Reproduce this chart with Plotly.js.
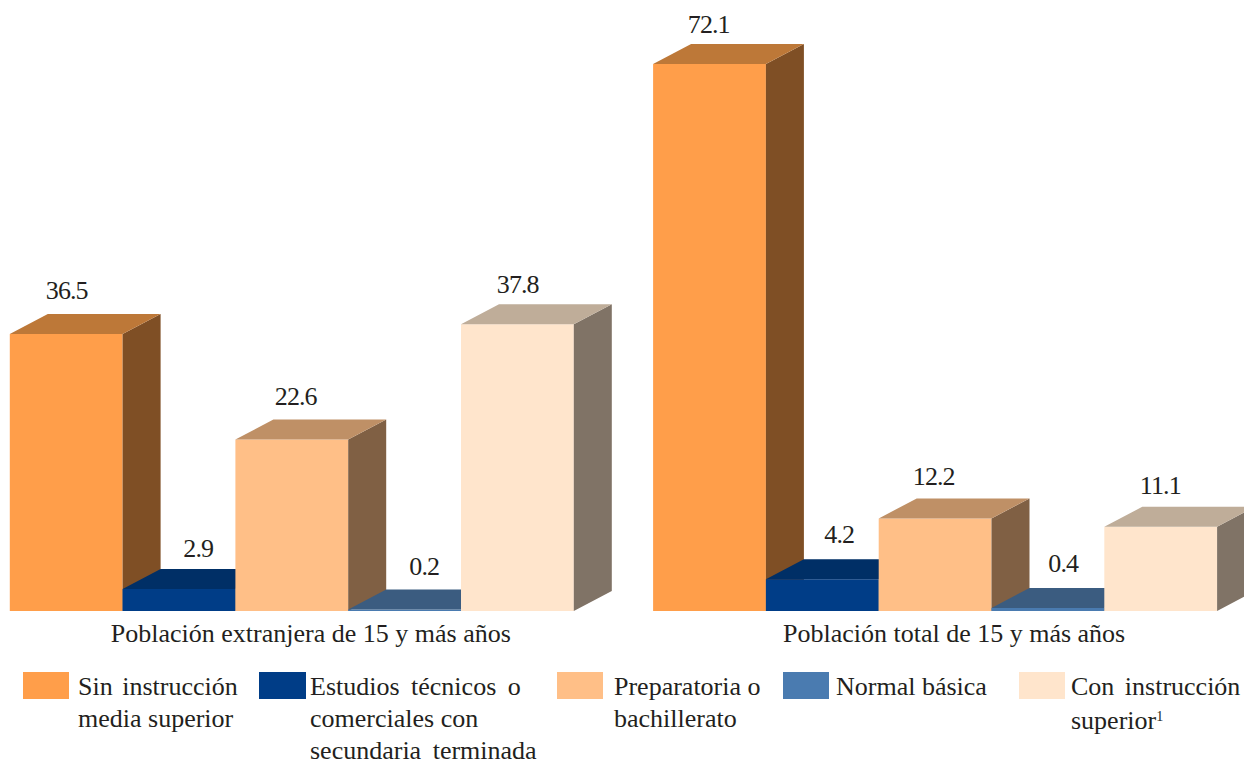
<!DOCTYPE html>
<html><head><meta charset="utf-8">
<script src="https://cdn.plot.ly/plotly-3.0.1.min.js"></script>
<style>html,body{margin:0;padding:0;background:#fff;overflow:hidden}</style>
</head><body><div id="chart" style="width:1244px;height:761px"></div>
<script>
// ---- data ----
const groups = ["Población extranjera de 15 y más años", "Población total de 15 y más años"];
const seriesNames = [
  ["Sin instrucción", "media superior"],
  ["Estudios técnicos o", "comerciales con", "secundaria terminada"],
  ["Preparatoria o", "bachillerato"],
  ["Normal básica"],
  ["Con instrucción", "superior<sup>1</sup>"]
];
const extranjera = [36.5, 2.9, 22.6, 0.2, 37.8];
const total = [72.1, 4.2, 12.2, 0.4, 11.1];
// ---- style ----
const W = 1244, H = 761;
const frontColors = ["#FF9E4A", "#003D87", "#FFBF87", "#4A7BB0", "#FFE5CC"];
const topColors   = ["#BD7838", "#002F66", "#BF9066", "#3B5C80", "#BFAD99"];
const sideColors  = ["#7F4F25", "#002044", "#806044", "#253E58", "#807366"];
const unitPx = 112.8, valPx = 7.587, x0Px = 66.2, base = 611;
const groupStart = [0, 5.703];
const dx = 38 / unitPx, dy = 20 / valPx;
const labelShift = [[1,-24],[19,-21],[4,-23],[20,-23],[1,-20],[-1,-19],[17,-25],[-1,-22],[16,-24],[0,-21]];
const legendBox = [[23,69],[259,306],[557,603],[783,829],[1019,1065]];
const legendText = [77, 309, 613, 835, 1070];
const legendLineY = [686, 718, 750];
const wordSpacing = {"Sin instrucción": 3, "Estudios técnicos o": 5, "Con instrucción": 4, "secundaria terminada": 5};
const font = "Liberation Serif", ink = "#231F20";

const xRange = [(0 - x0Px) / unitPx, (W - x0Px) / unitPx];
const yMax = base / valPx;
const values = [extranjera, total];
const traces = [], annotations = [], shapes = [];
const layout = {
  width: W, height: H, margin: {l:0,r:0,t:0,b:0}, paper_bgcolor:"#fff", plot_bgcolor:"rgba(0,0,0,0)",
  showlegend:false, hovermode:false,
  xaxis: {domain:[0,1], range:xRange, anchor:"y", showgrid:false, zeroline:false, showline:false,
    tickmode:"array", tickvals:groupStart.map(g => g + 2 + dx / 2), ticktext:groups,
    ticks:"", ticklabelstandoff:4,
    tickfont:{family:font,size:26,color:ink}},
  yaxis: {domain:[1-base/H,1], range:[0,yMax], visible:false, fixedrange:true}
};
frontColors.forEach((c, s) => {
  const ya = s === 0 ? "y" : "y" + (s + 1);
  if (s > 0) layout["yaxis" + (s + 1)] = {domain:[1-base/H,1], range:[0,yMax], visible:false, overlaying:"y", anchor:"x"};
  const xs = groupStart.map(g => g + s);
  const vs = values.map(v => v[s]);
  const sx = [], sy = [], tx = [], ty = [];
  xs.forEach((x, i) => {
    const l = x - .5, r = x + .5, v = vs[i];
    sx.push(r, r + dx, r + dx, r, r, null); sy.push(0, dy, v + dy, v, 0, null);
    tx.push(l, l + dx, r + dx, r, l, null); ty.push(v, v + dy, v + dy, v, v, null);
  });
  traces.push({type:"scatter", mode:"lines", x:sx, y:sy, xaxis:"x", yaxis:ya, fill:"toself", fillcolor:sideColors[s], line:{width:0}});
  traces.push({type:"scatter", mode:"lines", x:tx, y:ty, xaxis:"x", yaxis:ya, fill:"toself", fillcolor:topColors[s], line:{width:0}});
  traces.push({type:"bar", x:xs, y:vs, width:1, xaxis:"x", yaxis:ya, marker:{color:c, line:{width:0}}, name:seriesNames[s].join(" ")});
  xs.forEach((x, i) => {
    const sh = labelShift[i * 5 + s];
    annotations.push({x:x, y:vs[i] + dy, xref:"x", yref:"y", text:vs[i].toFixed(1), showarrow:false,
      xshift:sh[0], yshift:-sh[1], xanchor:"center", yanchor:"middle", font:{family:font,size:26,color:ink}});
  });
  shapes.push({type:"rect", xref:"paper", yref:"paper", x0:legendBox[s][0]/W, x1:legendBox[s][1]/W, y0:1-699/H, y1:1-672/H, fillcolor:c, line:{width:0}});
  seriesNames[s].forEach((t, k) => {
    annotations.push({xref:"paper", yref:"paper", x:legendText[s]/W, y:1-legendLineY[k]/H, xanchor:"left", yanchor:"middle", align:"left",
      text:t, showarrow:false, borderpad:0, font:{family:font,size:26,color:ink}});
  });
});
layout.annotations = annotations; layout.shapes = shapes;
Plotly.newPlot("chart", traces, layout, {displayModeBar:false, staticPlot:true}).then(() => {
  document.querySelectorAll(".annotation-text").forEach(el => {
    const t = el.textContent;
    if (/^\d+\.\d$/.test(t)) el.style.letterSpacing = "-0.9px";
    if (wordSpacing[t]) el.style.wordSpacing = wordSpacing[t] + "px";
    el.querySelectorAll("tspan").forEach(ts => { if (ts.textContent === "1") ts.style.fontSize = "14px"; });
  });
});
</script></body></html>
